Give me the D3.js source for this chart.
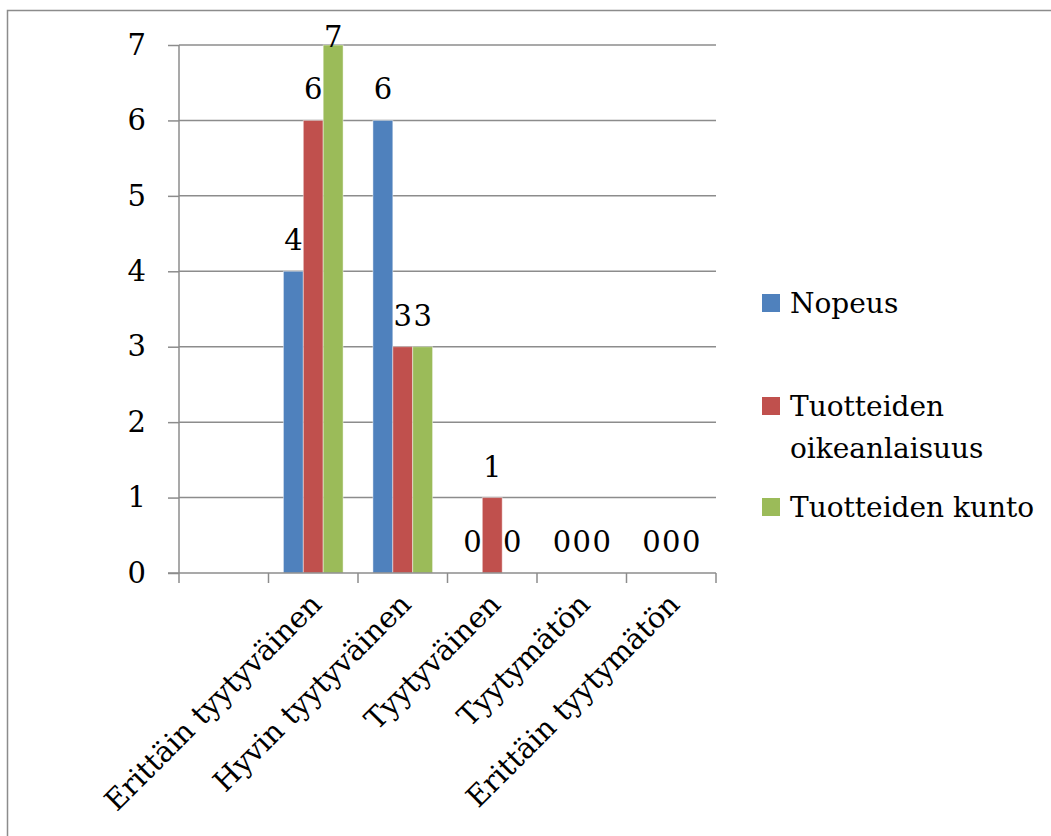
<!DOCTYPE html>
<html>
<head>
<meta charset="utf-8">
<script src="https://cdn.jsdelivr.net/npm/d3@7/dist/d3.min.js"></script>
<style>
  html, body { margin: 0; padding: 0; background: #fff; }
  svg { display: block; }
  text { font-family: "DejaVu Serif", "Liberation Serif", serif; fill: #000; }
</style>
</head>
<body>
<svg id="chart" width="1051" height="836"></svg>
<script>
// Satisfaction categories (first slot is an empty category)
const categories = ["", "Erittäin tyytyväinen", "Hyvin tyytyväinen", "Tyytyväinen", "Tyytymätön", "Erittäin tyytymätön"];
const seriesNames = ["Nopeus", "Tuotteiden oikeanlaisuus", "Tuotteiden kunto"];
const nopeus = [null, 4, 6, 0, 0, 0];
const oikeanlaisuus = [null, 6, 3, 1, 0, 0];
const kunto = [null, 7, 3, 0, 0, 0];
const yTicks = [0, 1, 2, 3, 4, 5, 6, 7];
const colors = ["#4F81BD", "#C0504D", "#9BBB59"];

const seriesValues = [nopeus, oikeanlaisuus, kunto];

const svg = d3.select("#chart");
const gridColor = "#8c8c8c";
const axisFont = 29;
const legendFont = 28;

// outer frame
svg.append("rect")
  .attr("x", 7.5).attr("y", 10.5)
  .attr("width", 1100).attr("height", 900)
  .attr("fill", "none").attr("stroke", gridColor).attr("stroke-width", 1.5);

const plot = { left: 179, right: 716, top: 45, bottom: 573 };

const x = d3.scaleBand().domain(categories).range([plot.left, plot.right]).padding(0);
const xs = d3.scaleBand().domain(seriesNames).range([0, x.bandwidth()])
  .paddingInner(0).paddingOuter(0.75);
const y = d3.scaleLinear().domain([0, 7]).range([plot.bottom, plot.top]);

// horizontal gridlines
svg.append("g").selectAll("line").data(yTicks.filter(d => d > 0)).join("line")
  .attr("x1", plot.left).attr("x2", plot.right)
  .attr("y1", d => y(d)).attr("y2", d => y(d))
  .attr("stroke", gridColor).attr("stroke-width", 1.5);

// y axis
const yAxis = svg.append("g")
  .attr("transform", `translate(${plot.left},0)`)
  .call(d3.axisLeft(y).tickValues(yTicks).tickSize(11).tickPadding(22).tickFormat(d3.format("d")));
yAxis.select(".domain").attr("stroke", gridColor).attr("stroke-width", 1.5).attr("d", `M0,${plot.top}V${plot.bottom}`);
yAxis.selectAll(".tick line").attr("stroke", gridColor).attr("stroke-width", 1.5);
yAxis.selectAll(".tick text")
  .style("font-family", '"DejaVu Serif", serif').style("font-size", axisFont + "px").attr("fill", "#000");

// bars
const groups = svg.append("g").selectAll("g").data(categories).join("g")
  .attr("transform", d => `translate(${x(d)},0)`);

groups.selectAll("rect")
  .data((c, ci) => seriesNames.map((s, si) => ({ s, si, v: seriesValues[si][ci] })).filter(d => d.v !== null && d.v > 0))
  .join("rect")
  .attr("x", d => xs(d.s))
  .attr("width", xs.bandwidth())
  .attr("y", d => y(d.v))
  .attr("height", d => y(0) - y(d.v))
  .attr("fill", d => colors[d.si])
  .attr("stroke", "rgba(255,255,255,0.45)").attr("stroke-width", 1);

// value labels
groups.selectAll("text")
  .data((c, ci) => seriesNames.map((s, si) => ({ s, si, v: seriesValues[si][ci] })).filter(d => d.v !== null))
  .join("text")
  .attr("x", d => xs(d.s) + xs.bandwidth() / 2)
  .attr("y", d => Math.max(y(d.v) - 21, plot.top + 2))
  .attr("text-anchor", "middle")
  .style("font-size", axisFont + "px")
  .text(d => d.v);

// x axis line and slot boundary ticks
svg.append("line")
  .attr("x1", plot.left - 11).attr("x2", plot.right)
  .attr("y1", plot.bottom).attr("y2", plot.bottom)
  .attr("stroke", gridColor).attr("stroke-width", 1.5);
const boundaries = categories.map(c => x(c)).concat([plot.right]);
svg.append("g").selectAll("line").data(boundaries).join("line")
  .attr("x1", d => d).attr("x2", d => d)
  .attr("y1", plot.bottom).attr("y2", plot.bottom + 10)
  .attr("stroke", gridColor).attr("stroke-width", 1.5);

// rotated category labels
svg.append("g").selectAll("text").data(categories.filter(c => c !== "")).join("text")
  .attr("transform", d => `translate(${x(d) + x.bandwidth() / 2 + 10},${plot.bottom + 33}) rotate(-45)`)
  .attr("text-anchor", "end")
  .style("font-size", axisFont + "px")
  .text(d => d);

// legend
const legendItems = [
  { name: seriesNames[0], lines: ["Nopeus"], baseline: 313 },
  { name: seriesNames[1], lines: ["Tuotteiden", "oikeanlaisuus"], baseline: 416 },
  { name: seriesNames[2], lines: ["Tuotteiden kunto"], baseline: 517 }
];
const legend = svg.append("g");
legendItems.forEach((item, i) => {
  legend.append("rect")
    .attr("x", 762).attr("y", item.baseline - 19)
    .attr("width", 18).attr("height", 18)
    .attr("fill", colors[i]);
  const t = legend.append("text")
    .attr("x", 790).attr("y", item.baseline)
    .style("font-size", legendFont + "px");
  item.lines.forEach((ln, li) => {
    t.append("tspan").attr("x", 790).attr("dy", li === 0 ? 0 : 42).text(ln);
  });
});
</script>
</body>
</html>
